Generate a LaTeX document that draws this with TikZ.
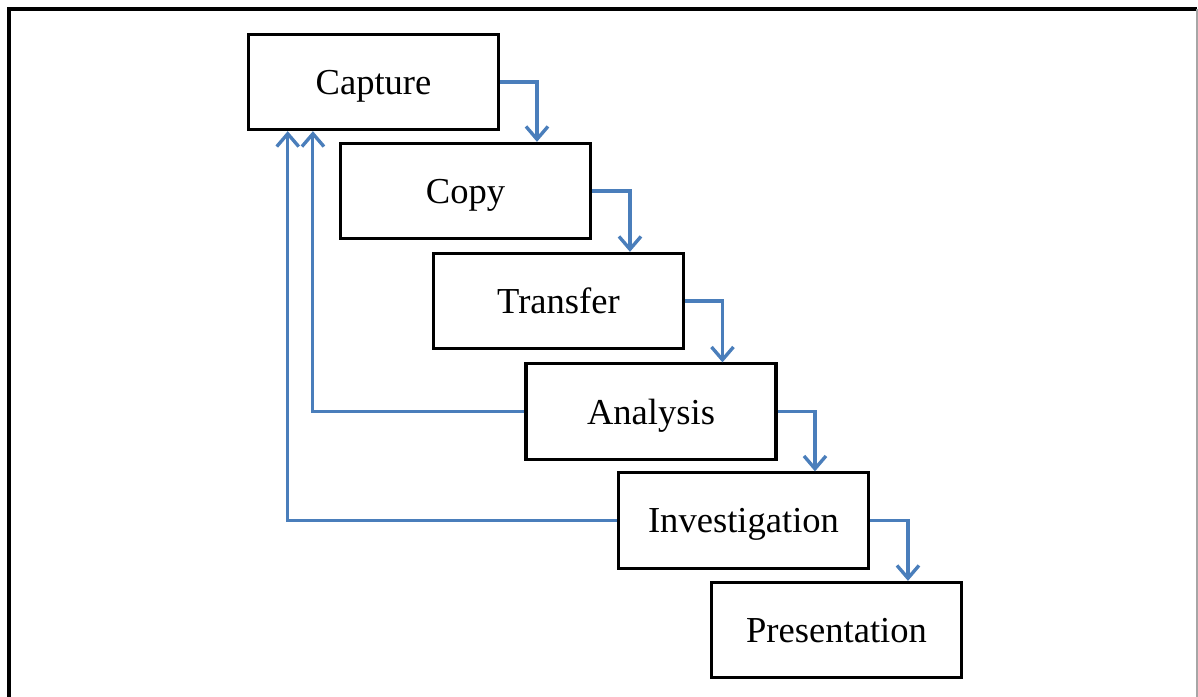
\documentclass[tikz,border=0pt]{standalone}
\usepackage{fontspec}
\setmainfont{Liberation Serif}
\usetikzlibrary{arrows.meta}
\definecolor{flowblue}{RGB}{74,126,187}
\begin{document}
\begin{tikzpicture}[x=0.025cm,y=-0.025cm,
    box/.style={draw,line width=2.2pt,minimum width=6.25cm,minimum height=2.38cm,inner sep=0pt,text depth=0pt,font=\fontsize{26}{30}\selectfont},
    flow/.style={draw=flowblue,line width=2.2pt,-{Straight Barb[length=0.32cm,width=0.55cm,line width=2.4pt]}}]
        \useasboundingbox (0,0) rectangle (1198,697);
        % frame
        \draw[line width=0.1cm] (9,697) -- (9,9) -- (1197,9);
        \draw[gray!70,line width=0.03cm] (1197,9) -- (1197,697);

        \node(capture) at (373.5,82) [box]{Capture};
        \node(copy) at (465.5,191) [box]{Copy};
        \node(transfer) at (558.5,301) [box]{Transfer};
        \node(analysis) at (651,411.5) [box]{Analysis};
        \node(investigation) at (743.5,520.5) [box]{Investigation};
        \node(presentation) at (836.5,630) [box]{Presentation};

        \draw[flow] (capture.east) -| ([xshift=4.95cm]copy.north west);
        \draw[flow] (copy.east) -| ([xshift=4.95cm]transfer.north west);
        \draw[flow] (transfer.east) -| ([xshift=4.95cm]analysis.north west);
        \draw[flow] (analysis.east) -| ([xshift=4.95cm]investigation.north west);
        \draw[flow] (investigation.east) -| ([xshift=4.95cm]presentation.north west);

        % loop back
        \draw[flow] (analysis.west) -| ([xshift=1.65cm]capture.south west);
        \draw[flow] (investigation.west) -| ([xshift=1.02cm]capture.south west);
    \end{tikzpicture}
\end{document}
